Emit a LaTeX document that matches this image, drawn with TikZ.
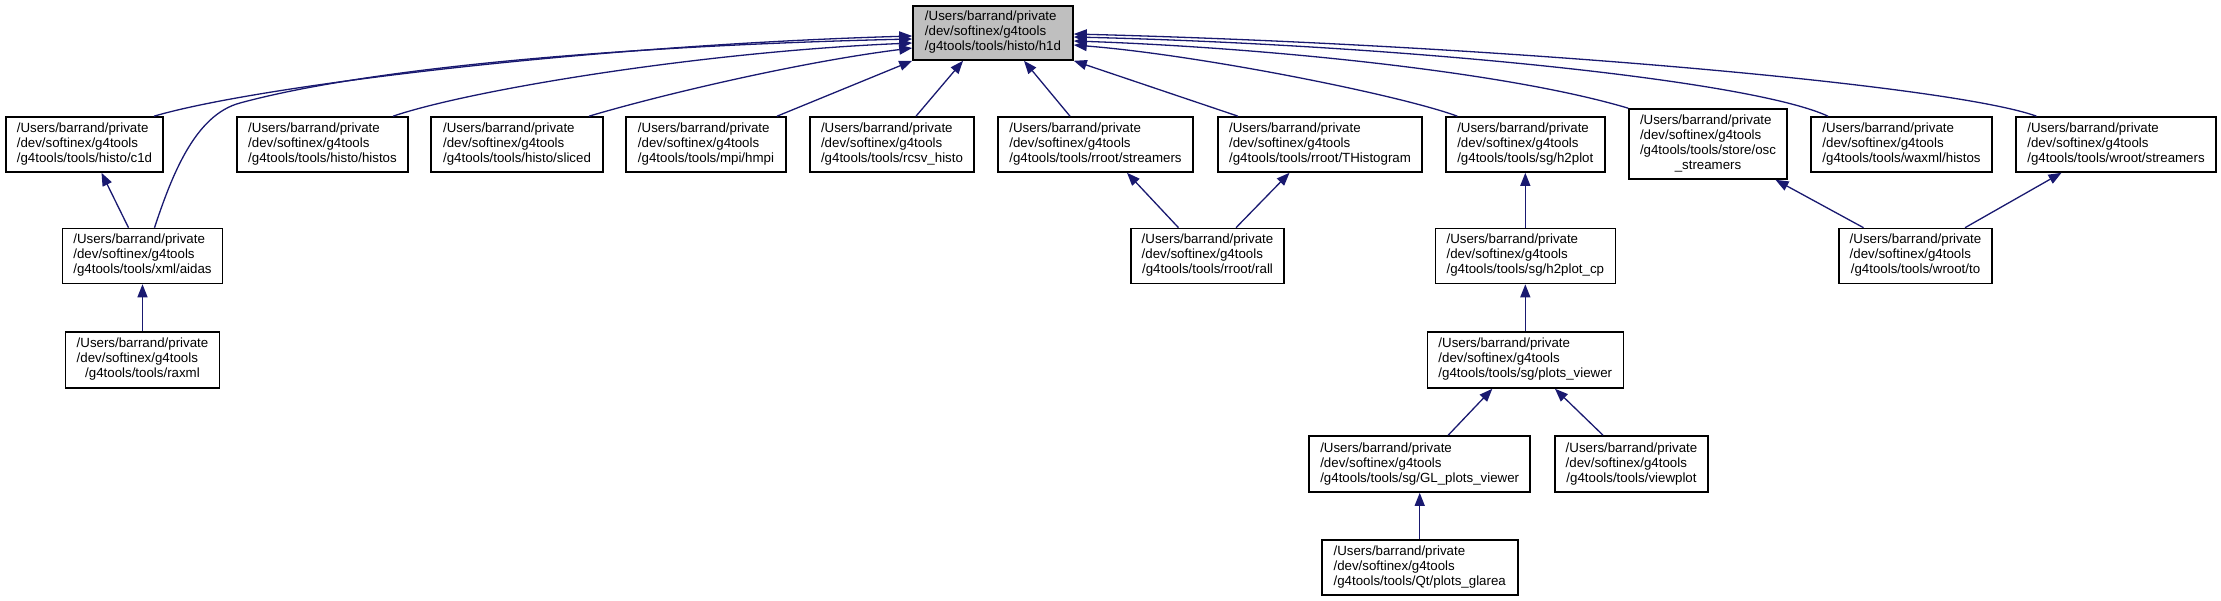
\documentclass[tikz,border=0pt]{standalone}
\usepackage{fontspec}
\setmainfont{Liberation Sans}
\usetikzlibrary{arrows.meta}
\definecolor{edgeblue}{HTML}{191970}
\definecolor{boxgray}{HTML}{BFBFBF}
\newcommand\glbl[1]{\begin{tabular}{@{}l@{}}/Users/barrand/private\\/dev/softinex/g4tools\\\multicolumn{1}{@{}c@{}}{#1}\end{tabular}}
\begin{document}
\begin{tikzpicture}[x=1pt,y=-1pt,
  box/.style={draw=black,line width=1.6pt,fill=white,rectangle,inner sep=0pt,
    minimum height=55pt,font=\fontsize{13.3}{15}\selectfont},
  edge/.style={draw=edgeblue,line width=1.3pt,-{Triangle[length=13pt,width=10pt]}}]
\useasboundingbox (0,0) rectangle (2221,601);
% row 0
\node[box,fill=boxgray,minimum width=160pt,minimum height=54pt] (h1d) at (993,33) {\glbl{/g4tools/tools/histo/h1d}};
% row 1
\node[box,minimum width=157pt] (c1d) at (84.5,144.5) {\glbl{/g4tools/tools/histo/c1d}};
\node[box,minimum width=171pt] (histos) at (322.5,144.5) {\glbl{/g4tools/tools/histo/histos}};
\node[box,minimum width=172pt] (sliced) at (517,144.5) {\glbl{/g4tools/tools/histo/sliced}};
\node[box,minimum width=160pt] (hmpi) at (706,144.5) {\glbl{/g4tools/tools/mpi/hmpi}};
\node[box,minimum width=164pt] (rcsv) at (892,144.5) {\glbl{/g4tools/tools/rcsv\_histo}};
\node[box,minimum width=195pt] (rstream) at (1095.5,144.5) {\glbl{/g4tools/tools/rroot/streamers}};
\node[box,minimum width=204pt] (thist) at (1320,144.5) {\glbl{/g4tools/tools/rroot/THistogram}};
\node[box,minimum width=159pt] (h2plot) at (1525.3,144.5) {\glbl{/g4tools/tools/sg/h2plot}};
\node[box,minimum width=158pt,minimum height=70pt] (osc) at (1708,144) {\begin{tabular}{@{}l@{}}/Users/barrand/private\\/dev/softinex/g4tools\\/g4tools/tools/store/osc\\\multicolumn{1}{@{}c@{}}{\_streamers}\end{tabular}};
\node[box,minimum width=181pt] (waxml) at (1901.5,144.5) {\glbl{/g4tools/tools/waxml/histos}};
\node[box,minimum width=200pt] (wstream) at (2116,144.5) {\glbl{/g4tools/tools/wroot/streamers}};
% row 2
\node[box,minimum width=160pt] (aidas) at (142.5,256) {\glbl{/g4tools/tools/xml/aidas}};
\node[box,minimum width=153pt] (rall) at (1207.5,256) {\glbl{/g4tools/tools/rroot/rall}};
\node[box,minimum width=180pt] (h2cp) at (1525.3,256) {\glbl{/g4tools/tools/sg/h2plot\_cp}};
\node[box,minimum width=153pt] (wto) at (1915.5,256) {\glbl{/g4tools/tools/wroot/to}};
% row 3
\node[box,minimum width=154pt,minimum height=56pt] (raxml) at (142.5,360) {\glbl{/g4tools/tools/raxml}};
\node[box,minimum width=196pt,minimum height=56pt] (pview) at (1525.3,360) {\glbl{/g4tools/tools/sg/plots\_viewer}};
% row 4
\node[box,minimum width=221pt,minimum height=56pt] (glview) at (1419.7,464) {\glbl{/g4tools/tools/sg/GL\_plots\_viewer}};
\node[box,minimum width=153pt,minimum height=56pt] (vplot) at (1631.5,464) {\glbl{/g4tools/tools/viewplot}};
% row 5
\node[box,minimum width=196pt] (glarea) at (1419.7,567.5) {\glbl{/g4tools/tools/Qt/plots\_glarea}};
% edges to h1d
\draw[edge] ([xshift=69.5pt]c1d.north) .. controls (260,85) and (600,45) .. ([yshift=-3pt]h1d.west);
\draw[edge] ([xshift=12pt]aidas.north) .. controls (172,175) and (195,115) .. (240,103) .. controls (380,65) and (650,45) .. ([yshift=-6pt]h1d.west);
\draw[edge] ([xshift=70.5pt]histos.north) .. controls (470,90) and (700,52) .. ([yshift=-10pt]h1d.west);
\draw[edge] ([xshift=72pt]sliced.north) .. controls (660,95) and (800,62) .. ([yshift=-15pt]h1d.west);
\draw[edge] ([xshift=71pt]hmpi.north) -- (h1d.south west);
\draw[edge] ([xshift=24pt]rcsv.north) -- ([xshift=-30pt]h1d.south);
\draw[edge] ([xshift=-25.5pt]rstream.north) -- ([xshift=31pt]h1d.south);
\draw[edge] ([xshift=-82pt]thist.north) -- (h1d.south east);
\draw[edge] ([xshift=-68pt]h2plot.north) .. controls (1400,95) and (1200,55) .. ([yshift=-12pt]h1d.east);
\draw[edge] (osc.north west) .. controls (1500,70) and (1250,47) .. ([yshift=-8pt]h1d.east);
\draw[edge] ([xshift=-73.5pt]waxml.north) .. controls (1750,80) and (1400,45) .. ([yshift=-4pt]h1d.east);
\draw[edge] ([xshift=-79.5pt]wstream.north) .. controls (1950,85) and (1500,45) .. ([yshift=-1pt]h1d.east);
% lower edges
\draw[edge] ([xshift=-14pt]aidas.north) -- ([xshift=17pt]c1d.south);
\draw[edge] (raxml.north) -- (aidas.south);
\draw[edge] ([xshift=-29pt]rall.north) -- ([xshift=31.5pt]rstream.south);
\draw[edge] ([xshift=28.5pt]rall.north) -- ([xshift=-30.5pt]thist.south);
\draw[edge] (h2cp.north) -- (h2plot.south);
\draw[edge] (pview.north) -- (h2cp.south);
\draw[edge] ([xshift=-52pt]wto.north) -- ([xshift=67.5pt]osc.south);
\draw[edge] ([xshift=49.5pt]wto.north) -- ([xshift=-54.5pt]wstream.south);
\draw[edge] ([xshift=28.5pt]glview.north) -- ([xshift=-33pt]pview.south);
\draw[edge] ([xshift=-28.5pt]vplot.north) -- ([xshift=29.7pt]pview.south);
\draw[edge] (glarea.north) -- (glview.south);
\end{tikzpicture}
\end{document}
